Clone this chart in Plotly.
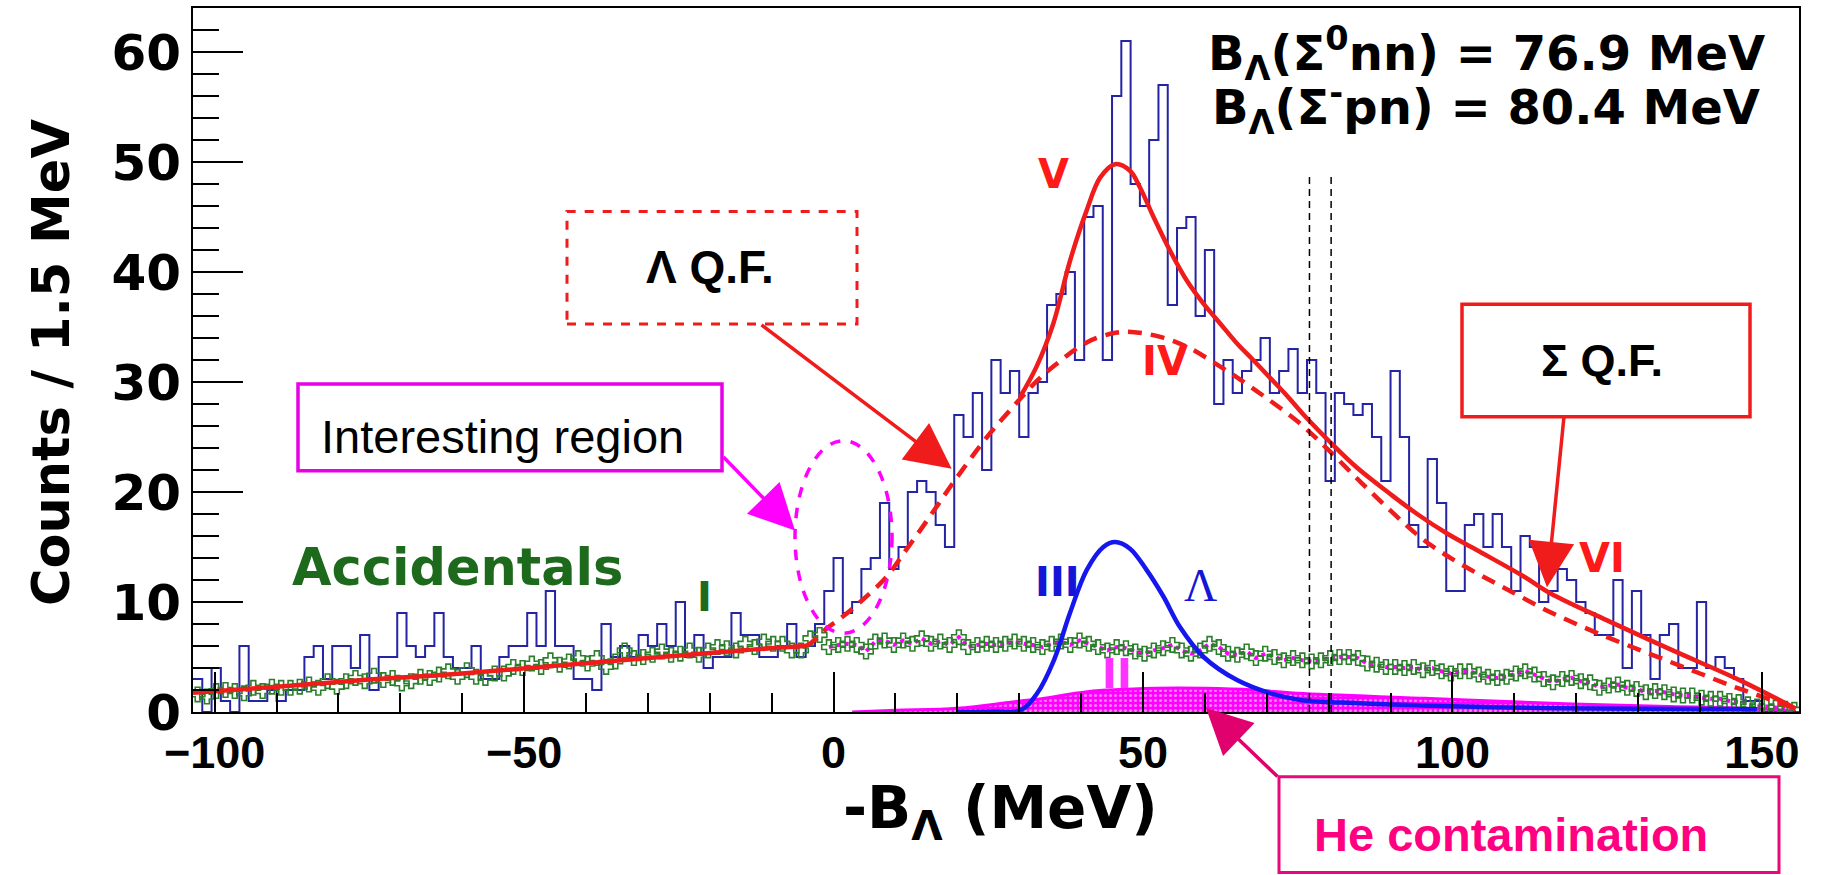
import plotly.graph_objects as go

# ---------------- data ----------------
bin_lo = -103.5
bin_w = 1.5

counts = [3, 0, 4, 1, 0, 6, 1, 1, 2, 1,
          2, 2, 5, 6, 3, 6, 6, 4, 7, 2,
          5, 5, 9, 6, 5, 6, 9, 5, 4, 4,
          6, 3, 3, 5, 6, 6, 9, 6, 11, 6,
          6, 3, 3, 2, 8, 5, 6, 5, 7, 6,
          8, 6, 10, 5, 7, 4, 5, 5, 9, 7,
          7, 5, 5, 6, 8, 5, 6, 8, 11, 14,
          9, 10, 13, 14, 19, 13, 15, 20, 21, 20,
          17, 15, 27, 25, 29, 22, 32, 29, 31, 25,
          29, 30, 37, 38, 40, 32, 45, 46, 32, 56,
          61, 48, 46, 52, 57, 37, 44, 45, 36, 42,
          28, 32, 29, 31, 32, 34, 29, 31, 33, 29,
          32, 29, 21, 29, 28, 27, 28, 25, 21, 31,
          25, 17, 15, 23, 19, 11, 11, 17, 18, 15,
          18, 15, 11, 16, 15, 10, 11, 13, 12, 10,
          9, 7, 7, 12, 4, 11, 7, 3, 7, 8,
          4, 4, 10, 4, 5, 4, 3, 1, 1, 0,
          0, 0, 0]

accidentals = [1.6, 1.4, 1.9, 2.0, 1.9, 1.7, 2.2, 1.9, 2.3, 2.2,
               2.2, 2.3, 2.5, 2.2, 2.8, 2.3, 2.8, 3.1, 2.8, 3.3,
               2.9, 3.1, 2.6, 2.8, 3.2, 3.1, 3.4, 3.7, 3.2, 3.8,
               3.2, 3.1, 3.5, 3.5, 4.1, 4.0, 4.4, 4.1, 4.7, 4.3,
               4.6, 4.9, 4.4, 4.9, 4.1, 4.6, 5.6, 4.9, 5.0, 5.2,
               5.5, 5.2, 5.3, 5.6, 5.2, 5.6, 5.9, 5.8, 5.6, 6.2,
               5.9, 6.4, 6.2, 6.2, 5.6, 5.6, 6.7, 7.0, 5.9, 6.1,
               6.2, 6.1, 5.5, 6.4, 6.5, 6.1, 6.5, 6.2, 6.7, 6.2,
               6.4, 6.1, 6.8, 5.9, 6.1, 6.2, 6.1, 6.2, 6.4, 6.2,
               6.1, 5.9, 6.2, 6.4, 6.1, 6.5, 6.2, 5.9, 5.6, 5.9,
               5.8, 5.5, 5.3, 5.6, 5.8, 6.1, 5.6, 5.3, 5.6, 6.2,
               5.9, 5.3, 5.2, 5.5, 4.9, 5.3, 5.0, 4.7, 4.9, 4.7,
               4.6, 4.7, 4.9, 5.0, 5.0, 4.9, 4.4, 4.3, 4.1, 4.1,
               4.0, 4.1, 3.8, 4.0, 3.7, 3.5, 3.7, 3.7, 3.4, 3.2,
               3.1, 3.2, 3.5, 3.7, 3.4, 3.0, 2.7, 3.0, 3.1, 2.8,
               2.7, 2.2, 2.4, 2.5, 2.2, 2.1, 1.8, 1.9, 1.8, 1.6,
               1.5, 1.5, 1.3, 1.2, 1.2, 1.0, 0.9, 0.7, 0.5, 0.5,
               0.4, 0.3, 0.2]
acc_dotted_from_bin = 68

# fit I (solid red, left part)
fit1_x = [-103.5, -90, -75, -60, -45, -30, -15, -4.5]
fit1_y = [1.75, 2.3, 2.95, 3.5, 4.2, 4.9, 5.6, 6.0]

# IV (dashed red, Lambda quasi-free)
qf_x = [-4.5, -3.6, -1.1, 1.1, 4.3, 8.6, 11.3, 15.1, 19.4, 24.8, 29.1, 32.5,
        35.5, 40.9, 45.8, 49.0, 52.8, 57.1, 62.5, 67.8, 75.0, 80.0, 85.0,
        90.0, 95.0, 100.0, 105.0, 110.0, 115.0, 120.0, 125.0, 130.0, 135.0,
        140.0, 145.0, 150.0, 155.5]
qf_y = [6.0, 6.3, 7.6, 8.5, 10.0, 12.3, 14.4, 17.4, 20.9, 25.0, 27.8, 29.9,
        31.4, 33.6, 34.5, 34.5, 34.1, 33.2, 31.4, 29.4, 26.4, 23.8, 21.0,
        18.3, 15.8, 13.9, 12.3, 10.8, 9.3, 8.0, 6.8, 5.7, 4.6,
        3.5, 2.4, 1.4, 0.3]

# V (solid red, total)
tot_x = [30.1, 32.8, 35.5, 38.2, 40.9, 43.1, 45.5, 47.9, 49.5, 51.7, 54.4,
         57.1, 59.8, 62.5, 65.2, 67.8, 70.5, 73.2, 76.0, 80.3, 84.6, 90.0,
         94.3, 99.2, 104.0, 111.6, 115.8, 124.9, 135.6, 146.4, 155.5]
tot_y = [28.6, 31.4, 35.3, 41.0, 45.6, 48.6, 49.8, 49.2, 47.7, 45.0, 41.9,
         39.2, 37.1, 35.3, 33.5, 32.0, 30.4, 28.8, 27.0, 24.5, 22.2, 19.8,
         18.0, 16.2, 14.7, 12.3, 10.8, 8.35, 5.6, 2.9, 0.3]

# III (blue, Lambda peak)
lam_x = [20.0, 26.0, 30.2, 32.9, 35.6, 38.2, 40.9, 43.6, 45.5, 47.9, 50.6,
         53.3, 56.0, 59.8, 65.2, 70.6, 75.4, 85.0, 95.0, 105.0, 116.0, 130.0, 149.2]
lam_y = [0.0, 0.05, 0.15, 1.7, 4.7, 9.0, 12.9, 15.0, 15.45, 14.85, 12.9,
         10.5, 7.7, 5.0, 2.9, 1.7, 1.1, 0.8, 0.6, 0.45, 0.35, 0.3, 0.25]

# II (He contamination)
he_x = [3.0, 10.0, 20.0, 30.1, 33.6, 41.0, 52.0, 60.0, 68.0, 75.0, 95.5, 116.0, 135.0, 150.0, 155.5]
he_y = [0.0, 0.15, 0.33, 1.0, 1.2, 1.85, 2.15, 2.15, 2.0, 1.7, 1.25, 0.8, 0.5, 0.3, 0.05]

b_lambda = [76.9, 80.4]
b_lambda_line_top = 48.8

# ---------------- derived ----------------
edges = [bin_lo + bin_w * i for i in range(len(counts) + 1)]
centers = [bin_lo + bin_w * (i + 0.5) for i in range(len(counts))]

RED = "#f01c1c"
BLUE_H = "#2424a4"
BLUE = "#1616ee"
MAG = "#ff00ff"
GREEN = "#2a7f2a"
DKGREEN = "#1d6a1d"

fig = go.Figure()

fig.add_trace(go.Scatter(
    x=he_x, y=he_y, mode="lines", line=dict(color=MAG, width=3, shape="spline"),
    fill="tozeroy",
    fillpattern=dict(shape=".", fgcolor="#ffffff", bgcolor=MAG, size=5, solidity=0.3),
    hoverinfo="skip"))

fig.add_trace(go.Scatter(
    x=edges, y=counts + [counts[-1]], mode="lines",
    line=dict(color=BLUE_H, width=2, shape="hv"), hoverinfo="skip"))

fig.add_trace(go.Scatter(
    x=centers[acc_dotted_from_bin:], y=accidentals[acc_dotted_from_bin:], mode="lines",
    line=dict(color=MAG, width=4, dash="dot"), hoverinfo="skip"))

fig.add_trace(go.Scatter(
    x=centers, y=accidentals, mode="markers",
    marker=dict(symbol="cross-open", size=12, color=GREEN, line=dict(width=1.6, color=GREEN)),
    hoverinfo="skip"))

fig.add_trace(go.Scatter(x=fit1_x, y=fit1_y, mode="lines",
                         line=dict(color=RED, width=4.5, shape="spline"), hoverinfo="skip"))
fig.add_trace(go.Scatter(x=qf_x, y=qf_y, mode="lines",
                         line=dict(color=RED, width=4.5, dash="14px,9px", shape="spline"),
                         hoverinfo="skip"))
fig.add_trace(go.Scatter(x=tot_x, y=tot_y, mode="lines",
                         line=dict(color=RED, width=4.5, shape="spline"), hoverinfo="skip"))
fig.add_trace(go.Scatter(x=lam_x, y=lam_y, mode="lines",
                         line=dict(color=BLUE, width=4.5, shape="spline"), hoverinfo="skip"))

for xb in b_lambda:
    fig.add_trace(go.Scatter(x=[xb, xb], y=[0, b_lambda_line_top], mode="lines",
                             line=dict(color="black", width=1.5, dash="7px,5px"),
                             hoverinfo="skip"))

# ---------------- layout helpers (page pixel -> paper) ----------------
L, R, T, B = 193, 1799, 6, 712
def px(fx):
    return (fx - L) / (R - L)
def py(fy):
    return (B - fy) / (B - T)

shapes = [
    dict(type="rect", xref="paper", yref="paper", x0=px(567), x1=px(857), y0=py(323), y1=py(210),
         line=dict(color=RED, width=3, dash="dash"), fillcolor="rgba(0,0,0,0)"),
    dict(type="rect", xref="paper", yref="paper", x0=px(298), x1=px(722), y0=py(470), y1=py(383),
         line=dict(color="#e800e8", width=3.5), fillcolor="rgba(0,0,0,0)"),
    dict(type="rect", xref="paper", yref="paper", x0=px(1462), x1=px(1750), y0=py(416), y1=py(303),
         line=dict(color=RED, width=3.5), fillcolor="rgba(0,0,0,0)"),
    dict(type="rect", xref="paper", yref="paper", x0=px(1279), x1=px(1779), y0=py(873), y1=py(777),
         line=dict(color="#e8087a", width=3), fillcolor="rgba(0,0,0,0)"),
    dict(type="circle", xref="paper", yref="paper", x0=px(795), x1=px(892), y0=py(633), y1=py(440),
         line=dict(color=MAG, width=3.5, dash="dash"), fillcolor="rgba(0,0,0,0)"),
]

LS = "Liberation Sans"
DJ = "DejaVu Sans"

def txt(x, y, text, size, color, family=DJ, weight="bold", **kw):
    return dict(xref="paper", yref="paper", x=px(x), y=py(y), text=text, showarrow=False,
                font=dict(family=family, size=size, color=color, weight=weight),
                xanchor="center", yanchor="middle", **kw)

def arrow(hx, hy, tx, ty, color, width=3.5, size=2.6):
    return dict(xref="paper", yref="paper", x=px(hx), y=py(hy), ax=tx - hx, ay=ty - hy,
                text="", showarrow=True, arrowhead=2, arrowsize=size, arrowwidth=width,
                arrowcolor=color, standoff=0)

annotations = [
    txt(1486, 52, "B<sub>Λ</sub>(Σ<sup>0</sup>nn) = 76.9 MeV", 48, "black"),
    txt(1486, 106, "B<sub>Λ</sub>(Σ<sup>-</sup>pn) = 80.4 MeV", 48, "black"),
    txt(1053, 172, "V", 40, "#ff1a1a"),
    txt(1165, 360, "IV", 40, "#ff1a1a"),
    txt(1057, 582, "III", 40, "#1515d8"),
    txt(1200, 585, "Λ", 46, "#1515d8", family="Liberation Serif", weight="normal"),
    txt(1117, 674, "II", 40, "#ff33ff"),
    txt(704, 597, "I", 40, DKGREEN),
    txt(1602, 558, "VI", 40, "#ff1a1a"),
    txt(457, 567, "Accidentals", 51, DKGREEN),
    txt(710, 266, "Λ Q.F.", 46, "black", family=LS),
    txt(1602, 360, "Σ Q.F.", 45, "black", family=LS),
    txt(502, 436, "Interesting region", 47, "black", family=LS, weight="normal"),
    txt(1511, 835, "He contamination", 47, "#ff0080", family=LS),
    txt(52, 362, "Counts / 1.5 MeV", 51, "black", textangle=-90),
    txt(1000, 812, "-B<sub>Λ</sub> (MeV)", 58, "black"),
    arrow(951.7, 468, 760, 323, RED),
    arrow(795, 530, 722, 455, MAG),
    arrow(1547, 587, 1564, 416, RED),
    arrow(1206, 708, 1279, 778, "#e0006e"),
]

fig.update_layout(
    width=1823, height=875,
    margin=dict(l=L, r=1823 - R, t=T, b=875 - B),
    paper_bgcolor="white", plot_bgcolor="white",
    showlegend=False,
    shapes=shapes, annotations=annotations,
    xaxis=dict(range=[bin_lo, bin_lo + bin_w * len(counts)], dtick=50, tick0=0,
               ticks="inside", ticklen=40, tickwidth=2, tickcolor="black",
               showline=True, linecolor="black", linewidth=2, mirror=True,
               showgrid=False, zeroline=False,
               tickfont=dict(family=LS, size=45, color="black", weight="bold"),
               minor=dict(dtick=10, ticks="inside", ticklen=19, tickwidth=2, tickcolor="black",
                          showgrid=False)),
    yaxis=dict(range=[0, 64], dtick=10, tick0=0,
               ticks="inside", ticklen=50, tickwidth=2, tickcolor="black",
               showline=True, linecolor="black", linewidth=2, mirror=True,
               showgrid=False, zeroline=False,
               tickfont=dict(family=DJ, size=50, color="black", weight="bold"),
               minor=dict(dtick=2, ticks="inside", ticklen=26, tickwidth=2, tickcolor="black",
                          showgrid=False)),
)

fig.write_html("out.html", config={"displayModeBar": False},
               post_script="document.body.style.margin='0';document.body.style.overflow='hidden';")
